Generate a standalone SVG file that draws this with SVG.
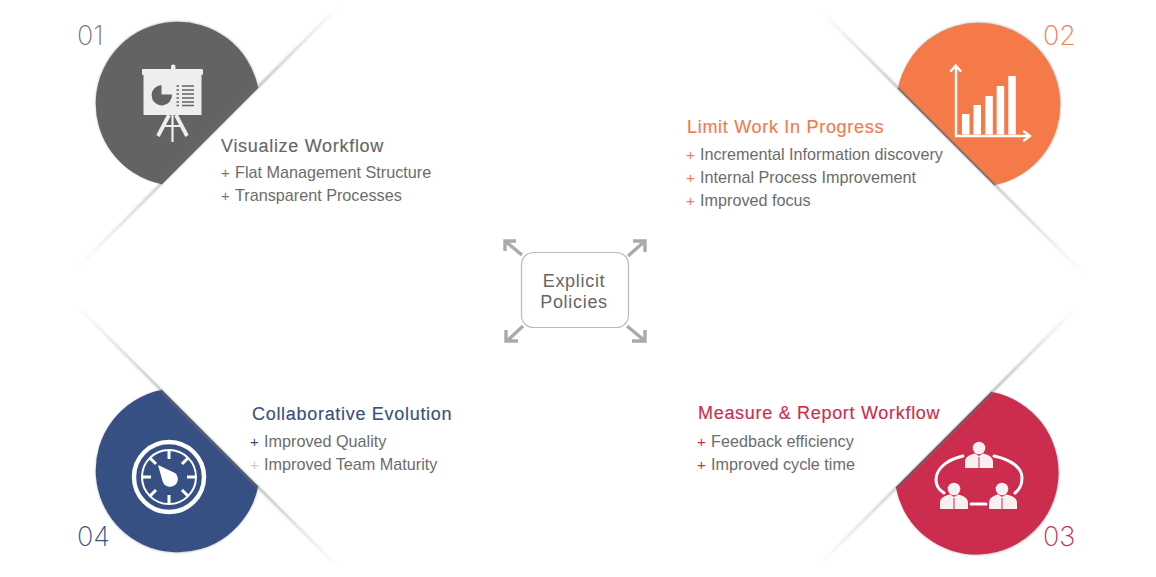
<svg xmlns="http://www.w3.org/2000/svg" width="1156" height="577" viewBox="0 0 1156 577">
<style>
.t{font-family:"Liberation Sans",Arial,sans-serif;font-size:18px;letter-spacing:.7px;stroke-width:.15px}
.b{font-family:"Liberation Sans",Arial,sans-serif;font-size:16.2px;fill:#6c6c6c}
.n{font-family:"Inter","Liberation Sans",sans-serif;font-size:27px;font-weight:200}
.p{font-family:"Liberation Sans",Arial,sans-serif;font-size:15px}
.w{fill:#fff}
.ws{fill:none;stroke:#fff;stroke-linecap:round}
.ar{fill:none;stroke:#aaa;stroke-width:3.4}
.sh{fill:none;stroke-width:1.4}
</style>
<defs>
<filter id="bs" x="-30%" y="-30%" width="160%" height="160%"><feGaussianBlur stdDeviation=".8"/></filter>
<linearGradient id="g1" gradientUnits="userSpaceOnUse" x1="338" y1="7" x2="78" y2="267"><stop offset="0" stop-color="#888" stop-opacity="0"/><stop offset=".3" stop-color="#888"/><stop offset=".62" stop-color="#888"/><stop offset="1" stop-color="#888" stop-opacity="0"/></linearGradient>
<linearGradient id="g2" gradientUnits="userSpaceOnUse" x1="822" y1="12" x2="1085" y2="275"><stop offset="0" stop-color="#888" stop-opacity="0"/><stop offset=".3" stop-color="#888"/><stop offset=".62" stop-color="#888"/><stop offset="1" stop-color="#888" stop-opacity="0"/></linearGradient>
<linearGradient id="g3" gradientUnits="userSpaceOnUse" x1="75" y1="304" x2="338" y2="567"><stop offset="0" stop-color="#888" stop-opacity="0"/><stop offset=".35" stop-color="#888"/><stop offset=".7" stop-color="#888"/><stop offset="1" stop-color="#888" stop-opacity="0"/></linearGradient>
<linearGradient id="g4" gradientUnits="userSpaceOnUse" x1="1075" y1="309" x2="820" y2="564"><stop offset="0" stop-color="#888" stop-opacity="0"/><stop offset=".3" stop-color="#888"/><stop offset=".62" stop-color="#888"/><stop offset="1" stop-color="#888" stop-opacity="0"/></linearGradient>
</defs>
<rect width="1156" height="577" fill="#fff"/>

<g id="node-01">
<path d="M258 87A82 82 0 1 0 161 184Z" fill="#bbb" filter="url(#bs)" transform="translate(0 -.5)"/>
<path d="M258 87A82 82 0 1 0 161 184Z" fill="#636363"/>
<path d="M258 87L161 184" stroke="#333" stroke-width="1.500" fill="none"/>
<g id="icon-01">
<rect x="142" y="69" width="61" height="6" rx="1" fill="#eee"/>
<rect x="171" y="64.500" width="4.500" height="6" rx="2" fill="#eee"/>
<rect x="143.500" y="75" width="58" height="40" fill="#eee"/>
<path d="M161.500 94.500V85A10.200 10.200 0 1 0 172 94.500Z" fill="#636363"/>
<path d="M176.500 86h2.500M182 86h12M176.500 90h2.500M182 90h12M176.500 94h2.500M182 94h12M176.500 98h2.500M182 98h12M176.500 102h2.500M182 102h12M176.500 105.500h2.500M182 105.500h12" stroke="#636363" stroke-width="1.700" fill="none"/>
<path d="M169 115L158 136M176 115L187 136" fill="none" stroke="#eee" stroke-width="3.800"/>
<path d="M172.500 115V142M164 126H181" fill="none" stroke="#eee" stroke-width="2.200"/>
</g>
<text x="77" y="45" class="n" fill="#777">01</text>
<text x="221" y="152" class="t" fill="#666" stroke="#666">Visualize Workflow</text>
<text x="221" y="178" class="p" fill="#777">+</text>
<text x="235" y="178" class="b">Flat Management Structure</text>
<text x="221" y="201" class="p" fill="#777">+</text>
<text x="235" y="201" class="b">Transparent Processes</text>
</g>

<g id="node-02">
<path d="M898 88A82 82 0 1 1 995 185Z" fill="#bbb" filter="url(#bs)" transform="translate(.5 -.5)"/>
<path d="M898 88A82 82 0 1 1 995 185Z" fill="#f47a4a"/>
<path d="M898 88L995 185" stroke="#6b4a3a" stroke-width="1.500" fill="none"/>
<g id="icon-02">
<path d="M956 66V136H1029" class="ws" stroke-width="2.400"/>
<path d="M951 71L955.800 65.500L960.500 71M1024 131.500L1030 136L1024 140.500" class="ws" stroke-width="2.400"/>
<rect x="962" y="114" width="7.500" height="20.500" class="w"/><rect x="973.500" y="105" width="7.500" height="29.500" class="w"/><rect x="985.300" y="96" width="7.500" height="38.500" class="w"/><rect x="996.700" y="86" width="7.500" height="48.500" class="w"/><rect x="1008.300" y="76" width="7.500" height="58.500" class="w"/>
</g>
<text x="1043" y="45" class="n" fill="#f47a4a">02</text>
<text x="687" y="133" class="t" fill="#f47a4a" stroke="#f47a4a">Limit Work In Progress</text>
<text x="686" y="160" class="p" fill="#f47a4a">+</text>
<text x="700" y="160" class="b">Incremental Information discovery</text>
<text x="686" y="183" class="p" fill="#f47a4a">+</text>
<text x="700" y="183" class="b">Internal Process Improvement</text>
<text x="686" y="206" class="p" fill="#f47a4a">+</text>
<text x="700" y="206" class="b">Improved focus</text>
</g>

<g id="node-03">
<path d="M992 392A82 82 0 1 1 896 488Z" fill="#bbb" filter="url(#bs)" transform="translate(.5 .5)"/>
<path d="M992 392A82 82 0 1 1 896 488Z" fill="#cc2c4e"/>
<path d="M992 392L896 488" stroke="#4a2a33" stroke-width="1.500" fill="none"/>
<g id="icon-03" fill="#f8f0f0">
<circle cx="979" cy="448" r="6.300"/><path d="M965 468V462C965 457 969 455 975 453.500L979 456L983 453.500C989 455 993 457 993 462V468Z"/>
<circle cx="954" cy="489" r="6.300"/><path d="M940 509V503C940 498 944 496 950 494.500L954 497L958 494.500C964 496 968 498 968 503V509Z"/>
<circle cx="1002" cy="489" r="6.300"/><path d="M989 509V503C989 498 993 496 998 494.500L1002 497L1006 494.500C1013 496 1017 498 1017 503V509Z"/>
<path d="M979 457V468M954 498V509M1002 498V509" stroke="#cc2c4e" stroke-width="1"/>
<path d="M963 456C945 460 936 470 936 480C936 486 939 490 944 493M994 456C1012 460 1022 468 1022 478C1022 485 1019 490 1015 493" class="ws" stroke-width="3" stroke-linecap="butt"/>
<path d="M971 504H986" class="ws" stroke-width="3" stroke-linecap="butt"/>
</g>
<text x="1043" y="546" class="n" fill="#cc2c4e">03</text>
<text x="698" y="419" class="t" fill="#cc2c4e" stroke="#cc2c4e">Measure &amp; Report Workflow</text>
<text x="697" y="447" class="p" fill="#cc2c4e">+</text>
<text x="711" y="447" class="b">Feedback efficiency</text>
<text x="697" y="470" class="p" fill="#cc2c4e">+</text>
<text x="711" y="470" class="b">Improved cycle time</text>
</g>

<g id="node-04">
<path d="M161 390A82 82 0 1 0 258 487Z" fill="#bbb" filter="url(#bs)" transform="translate(0 .5)"/>
<path d="M161 390A82 82 0 1 0 258 487Z" fill="#375084"/>
<path d="M161 390L258 487" stroke="#223" stroke-width="1.200" fill="none"/>
<g id="icon-04">
<circle cx="169" cy="477" r="35" fill="none" stroke="#fff" stroke-width="4.400"/>
<circle cx="169" cy="477" r="27" fill="none" stroke="#fff" stroke-width="2"/>
<path d="M169 450V459M169 495V504M142 477H151M187 477H196M150 458L156 464M188 458L182 464M150 496L156 490M188 496L182 490" stroke="#fff" stroke-width="3" fill="none"/>
<path d="M158 465L175 473A7.800 7.800 0 1 1 162.500 481Z" class="w"/>
</g>
<text x="77" y="546" class="n" fill="#375084">04</text>
<text x="252" y="420" class="t" fill="#375084" stroke="#375084">Collaborative Evolution</text>
<text x="250" y="447" class="p" fill="#375084">+</text>
<text x="264" y="447" class="b">Improved Quality</text>
<text x="250" y="470" class="p" fill="#ccc">+</text>
<text x="264" y="470" class="b">Improved Team Maturity</text>
</g>

<g id="connectors">
<g filter="url(#bs)">
<path class="sh" d="M338 7L78 267" stroke="url(#g1)"/>
<path class="sh" d="M822 12L1085 275" stroke="url(#g2)"/>
<path class="sh" d="M75 304L338 567" stroke="url(#g3)"/>
<path class="sh" d="M1075 309L820 564" stroke="url(#g4)"/>
</g>
<g class="ar">
<path d="M522 255L505 241M505 251V241H516"/>
<path d="M628 256L645 241M633 241H645V252"/>
<path d="M523 326L507 341M506 330V341H518"/>
<path d="M627 326L645 341M645 330V341H632"/>
</g>
</g>

<g id="node-center">
<rect x="521.500" y="252.500" width="107" height="75" rx="12" fill="#fff" stroke="#bbb" stroke-width="1.200"/>
<text x="574" y="287" class="t" text-anchor="middle" fill="#666">Explicit</text>
<text x="574" y="308" class="t" text-anchor="middle" fill="#666">Policies</text>
</g>
</svg>
